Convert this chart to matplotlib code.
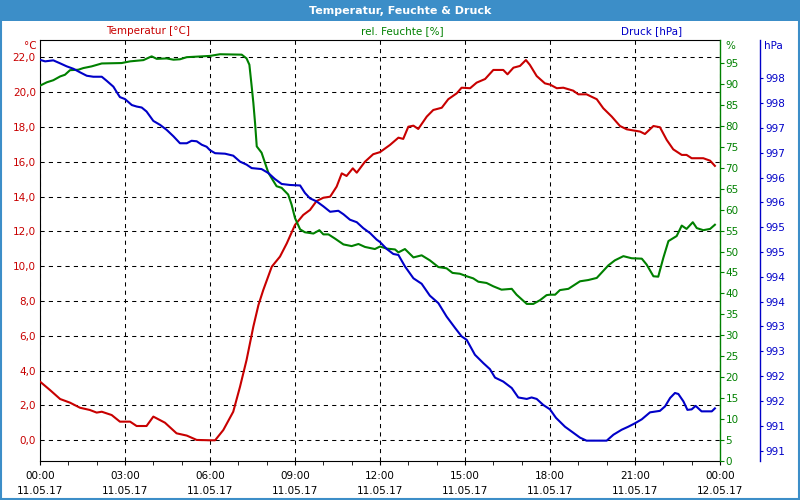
import matplotlib
matplotlib.use("Agg")
import matplotlib.pyplot as plt
from matplotlib.ticker import MultipleLocator, FixedLocator
from matplotlib.patches import Rectangle

plt.rcParams['font.family'] = ['DejaVu Sans']
plt.rcParams['font.size'] = 7.5

# --- data (Stunden seit 11.05.17 00:00) ---
temp_t = [0, 0.35, 0.71, 1.06, 1.41, 1.76, 2.0, 2.18, 2.53, 2.82, 3.18, 3.41, 3.76, 4.0, 4.41, 4.82,
          5.18, 5.53, 6.0, 6.18, 6.47, 6.82, 7.06, 7.29, 7.53, 7.71, 7.88, 8.18, 8.47, 8.71, 9.0, 9.29,
          9.53, 9.76, 10.0, 10.24, 10.47, 10.65, 10.82, 11.04, 11.18, 11.47, 11.76, 12.0, 12.35, 12.65,
          12.82, 13.0, 13.18, 13.35, 13.65, 13.88, 14.18, 14.41, 14.71, 14.88, 15.18, 15.41, 15.71,
          16.0, 16.35, 16.5, 16.71, 16.94, 17.15, 17.29, 17.53, 17.82, 18.0, 18.24, 18.47, 18.82, 19.0,
          19.29, 19.65, 19.88, 20.18, 20.47, 20.71, 21.0, 21.18, 21.35, 21.65, 21.88, 22.12, 22.35,
          22.65, 22.82, 23.0, 23.41, 23.65, 23.82]
temp = [3.37, 2.89, 2.37, 2.16, 1.87, 1.74, 1.59, 1.64, 1.45, 1.07, 1.07, 0.82, 0.82, 1.36, 1.01, 0.40,
        0.27, 0.02, 0.0, 0.0, 0.59, 1.64, 3.08, 4.61, 6.53, 7.77, 8.63, 9.97, 10.55, 11.31, 12.37, 12.94,
        13.23, 13.74, 13.93, 13.99, 14.57, 15.33, 15.18, 15.62, 15.37, 16.0, 16.43, 16.55, 16.96, 17.38,
        17.31, 18.01, 18.07, 17.88, 18.59, 18.97, 19.1, 19.59, 19.93, 20.25, 20.22, 20.54, 20.75,
        21.27, 21.27, 21.02, 21.4, 21.5, 21.84, 21.56, 20.92, 20.5, 20.43, 20.22, 20.25, 20.08, 19.87,
        19.87, 19.59, 19.07, 18.59, 18.05, 17.86, 17.78, 17.73, 17.59, 18.05, 17.98, 17.25, 16.71,
        16.39, 16.39, 16.2, 16.2, 16.06, 15.76]

hum_t = [0, 0.24, 0.47, 0.71, 0.88, 1.06, 1.35, 1.53, 1.82, 2.18, 2.88, 3.18, 3.65, 3.94, 4.12, 4.47,
         4.71, 4.94, 5.18, 6.0, 6.35, 7.12, 7.29, 7.39, 7.47, 7.53, 7.59, 7.65, 7.82, 7.94, 8.06, 8.24,
         8.35, 8.53, 8.76, 8.88, 9.0, 9.18, 9.35, 9.65, 9.86, 10.0, 10.18, 10.41, 10.71, 11.0, 11.24,
         11.47, 11.82, 12.0, 12.24, 12.53, 12.65, 12.88, 13.18, 13.47, 13.76, 14.06, 14.35, 14.56,
         14.82, 15.06, 15.29, 15.47, 15.76, 16.0, 16.29, 16.65, 16.82, 17.18, 17.41, 17.65, 17.88,
         18.0, 18.18, 18.35, 18.65, 19.06, 19.35, 19.65, 20.06, 20.29, 20.59, 20.88, 21.24, 21.41,
         21.65, 21.82, 22.0, 22.18, 22.47, 22.65, 22.82, 23.04, 23.18, 23.41, 23.65, 23.82]
hum = [89.6, 90.4, 90.9, 91.8, 92.2, 93.3, 93.4, 93.8, 94.2, 94.9, 95.0, 95.4, 95.7, 96.6, 96.0, 96.1,
       95.8, 95.9, 96.4, 96.7, 97.1, 97.0, 96.1, 94.6, 89.5, 85.5, 80.7, 75.1, 73.6, 71.2, 68.8, 66.8,
       65.6, 65.2, 63.6, 61.2, 58.0, 55.3, 54.6, 54.3, 55.1, 54.1, 54.1, 53.1, 51.7, 51.3, 51.8,
       51.1, 50.6, 51.2, 50.7, 50.5, 49.8, 50.6, 48.6, 49.1, 47.9, 46.3, 46.0, 44.9,
       44.7, 44.1, 43.6, 42.8, 42.5, 41.7, 40.9, 41.1, 39.7, 37.5, 37.5, 38.4, 39.6,
       39.7, 39.7, 40.8, 41.1, 42.9, 43.2, 43.7, 46.7, 47.9, 48.9, 48.4, 48.3, 46.9,
       44.1, 44.0, 48.5, 52.5, 53.7, 56.2, 55.4, 57.0, 55.6, 55.1, 55.4, 56.4]

druck_t = [0, 0.18, 0.47, 0.71, 0.94, 1.18, 1.41, 1.65, 1.88, 2.18, 2.35, 2.59, 2.73, 2.82, 3.0, 3.24,
           3.41, 3.59, 3.76, 4.0, 4.24, 4.47, 4.71, 4.94, 5.18, 5.35, 5.53, 5.71, 5.88, 6.0, 6.18, 6.53,
           6.82, 7.06, 7.29, 7.47, 7.82, 8.06, 8.29, 8.53, 8.82, 9.18, 9.35, 9.53, 9.76, 10.0, 10.24,
           10.53, 10.71, 10.94, 11.18, 11.41, 11.65, 11.88, 12.0, 12.24, 12.47, 12.65, 12.88, 13.18,
           13.47, 13.76, 14.06, 14.35, 14.65, 14.88, 15.06, 15.35, 15.65, 15.88, 16.06, 16.35, 16.65,
           16.88, 17.18, 17.35, 17.53, 17.76, 18.0, 18.21, 18.53, 18.82, 19.06, 19.29, 20.0, 20.24,
           20.53, 20.76, 21.0, 21.24, 21.53, 21.88, 22.06, 22.24, 22.41, 22.53, 22.71, 22.85, 23.0,
           23.14, 23.35, 23.71, 23.82]
druck = [998.62, 998.59, 998.61, 998.55, 998.49, 998.44, 998.37, 998.30, 998.28, 998.28, 998.20, 998.08,
         997.95, 997.87, 997.83, 997.71, 997.68, 997.66, 997.58, 997.39, 997.31, 997.21, 997.08, 996.94,
         996.94, 996.99, 996.98, 996.91, 996.87, 996.80, 996.74, 996.73, 996.69, 996.57, 996.51, 996.44,
         996.42, 996.34, 996.22, 996.12, 996.10, 996.09, 995.94, 995.83, 995.77, 995.67, 995.56, 995.58,
         995.51, 995.40, 995.35, 995.23, 995.13, 995.00, 994.95, 994.81, 994.71, 994.69, 994.46, 994.22,
         994.11, 993.87, 993.72, 993.45, 993.22, 993.05, 992.98, 992.68, 992.51, 992.39, 992.22, 992.14,
         992.01, 991.82, 991.79, 991.82, 991.79, 991.67, 991.58, 991.41, 991.23, 991.11, 991.01, 990.95,
         990.95, 991.07, 991.17, 991.23, 991.30, 991.38, 991.52, 991.55, 991.64, 991.81, 991.91, 991.89,
         991.74, 991.57, 991.58, 991.65, 991.54, 991.54, 991.60]

x_ticks = [0, 3, 6, 9, 12, 15, 18, 21, 24]
x_labels = ["00:00\n11.05.17", "03:00\n11.05.17", "06:00\n11.05.17", "09:00\n11.05.17",
            "12:00\n11.05.17", "15:00\n11.05.17", "18:00\n11.05.17", "21:00\n11.05.17",
            "00:00\n12.05.17"]
temp_ticks = [0, 2, 4, 6, 8, 10, 12, 14, 16, 18, 20, 22]
hum_ticks = list(range(0, 100, 5))
druck_ticks = [990.75 + 0.5 * i for i in range(16)]

rot = '#c80000'
gruen = '#008000'
blau = '#0000c8'
titel_blau = '#3c8ec8'

fig = plt.figure(figsize=(8, 5), dpi=100)
fig.patch.set_facecolor('white')

# Titelleiste
fig.patches.append(Rectangle((0, 0.958), 1, 0.042, transform=fig.transFigure,
                             facecolor=titel_blau, edgecolor='none', zorder=0))
fig.patches.append(Rectangle((0.001, 0.002), 0.998, 0.997, transform=fig.transFigure,
                             facecolor='none', edgecolor=titel_blau, lw=1.5, zorder=0))
fig.text(0.5, 0.979, "Temperatur, Feuchte & Druck", color='white', ha='center', va='center',
         fontsize=8, fontweight='bold')

ax = fig.add_axes([0.05, 0.078, 0.85, 0.842])
ax_h = ax.twinx()
ax_p = ax.twinx()

# Temperatur
ax.set_xlim(0, 24)
ax.set_ylim(-1.19, 22.99)
ax.set_yticks(temp_ticks)
ax.set_yticklabels([f"{v:.1f}".replace('.', ',') for v in temp_ticks], color=rot)
ax.tick_params(axis='y', length=0, pad=3)
ax.set_xticks(x_ticks)
ax.set_xticklabels(x_labels, linespacing=1.6)
ax.xaxis.set_minor_locator(MultipleLocator(1))
ax.tick_params(axis='x', which='both', length=3, direction='out', pad=4)
ax.grid(True, axis='both', color='black', lw=0.75, ls=(0, (4, 4)))
ax.spines['right'].set_visible(False)

# Feuchte
ax_h.set_ylim(0, 100.5)
ax_h.yaxis.set_major_locator(FixedLocator(hum_ticks))
ax_h.tick_params(axis='y', colors=gruen, length=3, pad=1)
for s in ['left', 'top', 'bottom']:
    ax_h.spines[s].set_visible(False)
ax_h.spines['right'].set_color(gruen)
ax_h.spines['right'].set_linewidth(1.0)

# Druck
ax_p.set_ylim(990.54, 999.02)
ax_p.set_yticks(druck_ticks)
ax_p.set_yticklabels([f"{v:.0f}" for v in druck_ticks])
ax_p.spines['right'].set_position(('axes', 1.0588))
ax_p.spines['right'].set_color(blau)
ax_p.spines['right'].set_linewidth(1.0)
for s in ['left', 'top', 'bottom']:
    ax_p.spines[s].set_visible(False)
ax_p.tick_params(axis='y', colors=blau, length=2, pad=2)

ax.plot(temp_t, temp, color=rot, lw=1.5, zorder=3)
ax_h.plot(hum_t, hum, color=gruen, lw=1.5)
ax_p.plot(druck_t, druck, color=blau, lw=1.5)

# Achsentitel oben
fig.text(148 / 800, 1 - 31 / 500, "Temperatur [°C]", color=rot, ha='center', va='center')
fig.text(402 / 800, 1 - 31 / 500, "rel. Feuchte [%]", color=gruen, ha='center', va='center')
fig.text(652 / 800, 1 - 31 / 500, "Druck [hPa]", color=blau, ha='center', va='center')
fig.text(37 / 800, 1 - 46 / 500, "°C", color=rot, ha='right', va='center')
fig.text(725 / 800, 1 - 46 / 500, "%", color=gruen, ha='left', va='center')
fig.text(764 / 800, 1 - 46 / 500, "hPa", color=blau, ha='left', va='center')

fig.savefig("out.png", dpi=100)
